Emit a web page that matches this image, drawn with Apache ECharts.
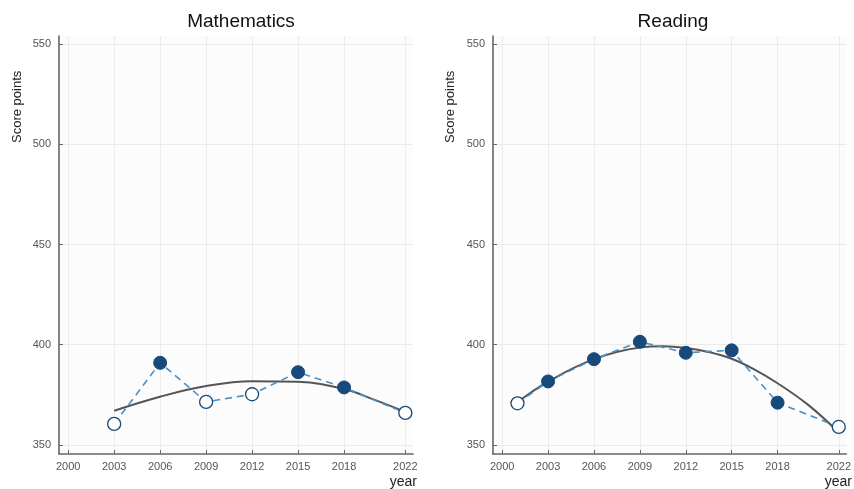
<!DOCTYPE html>
<html>
<head>
<meta charset="utf-8">
<script src="https://cdn.jsdelivr.net/npm/echarts@6/dist/echarts.min.js"></script>
<style>
html,body{margin:0;padding:0;background:#fff;}
#chart{width:854px;height:489px;}
</style>
</head>
<body>
<div id="chart"></div>
<script>
// ---- data ----
var xTickYears = [2000, 2003, 2006, 2009, 2012, 2015, 2018, 2022];
var yTickValues = [350, 400, 450, 500, 550];

var mathYears = [2003, 2006, 2009, 2012, 2015, 2018, 2022];
var mathScores = [360.5, 391, 371.5, 375.3, 386.3, 378.7, 366];
var mathFilled = [false, true, false, false, true, true, false];
var mathTrendYears = [2003, 2006, 2009, 2012, 2015, 2018, 2020, 2022];
var mathTrendScores = [367.1, 374.1, 379.4, 381.8, 381.5, 377.9, 372.5, 366.5];

var readYears = [2001, 2003, 2006, 2009, 2012, 2015, 2018, 2022];
var readScores = [370.8, 381.7, 392.8, 401.5, 396, 397.2, 371.1, 359];
var readFilled = [false, true, true, true, true, true, true, false];
var readTrendYears = [2001, 2003, 2006, 2009, 2010.5, 2012, 2013.5, 2015, 2016.5, 2018, 2020, 2022];
var readTrendScores = [371.3, 381.6, 392.8, 398.6, 399.2, 398.4, 396.4, 393, 387.6, 380.8, 370, 356.3];

// ---- styling ----
var darkBlue = '#17497a';
var lightBlue = '#4a8fc2';
var axisGray = '#666';
var gridGray = '#ebebeb';
var font = 'Liberation Sans, Arial, sans-serif';

function pairs(xs, ys) {
  return xs.map(function (x, i) { return [x, ys[i]]; });
}
function markerData(xs, ys, filled) {
  return xs.map(function (x, i) {
    return {
      value: [x, ys[i]],
      itemStyle: filled[i]
        ? { color: darkBlue, borderColor: darkBlue, borderWidth: 1 }
        : { color: '#ffffff', borderColor: darkBlue, borderWidth: 1.3 }
    };
  });
}
function xAxisCfg(idx) {
  return {
    type: 'value', gridIndex: idx, min: 1999.4, max: 2022.5,
    axisLine: { show: true, lineStyle: { color: axisGray, width: 1.6 } },
    axisTick: { show: true, inside: true, length: 4, customValues: xTickYears, lineStyle: { color: axisGray } },
    axisLabel: { customValues: xTickYears, color: '#555', fontSize: 11, margin: 7, fontFamily: font,
      formatter: function (v) { return String(Math.round(v)); } },
    splitLine: { show: true, lineStyle: { color: gridGray, width: 1 } }
  };
}
function yAxisCfg(idx) {
  return {
    type: 'value', gridIndex: idx, min: 345.5, max: 554,
    axisLine: { show: true, lineStyle: { color: axisGray, width: 1.6 } },
    axisTick: { show: true, inside: true, length: 4, customValues: yTickValues, lineStyle: { color: axisGray } },
    axisLabel: { customValues: yTickValues, color: '#555', fontSize: 11, margin: 8, fontFamily: font },
    splitLine: { show: true, lineStyle: { color: gridGray, width: 1 } }
  };
}
function panelSeries(idx, years, scores, filled, tYears, tScores) {
  return [
    {
      type: 'line', xAxisIndex: idx, yAxisIndex: idx, smooth: 0.4, symbol: 'none',
      data: pairs(tYears, tScores), z: 2,
      lineStyle: { color: '#555', width: 2 }
    },
    {
      type: 'line', xAxisIndex: idx, yAxisIndex: idx, symbol: 'circle', symbolSize: 13,
      showAllSymbol: true, data: markerData(years, scores, filled), z: 3,
      lineStyle: { color: lightBlue, width: 1.6, type: [7, 5] },
      itemStyle: { color: darkBlue }
    }
  ];
}

var chart = echarts.init(document.getElementById('chart'), null, { renderer: 'canvas' });
chart.setOption({
  animation: false,
  backgroundColor: '#ffffff',
  grid: [
    { left: 59, right: 441, top: 36, bottom: 35, show: true, backgroundColor: '#fcfcfc', borderWidth: 0 },
    { left: 493, right: 7, top: 36, bottom: 35, show: true, backgroundColor: '#fcfcfc', borderWidth: 0 }
  ],
  title: [
    { text: 'Mathematics', left: 236, top: 7, textAlign: 'center',
      textStyle: { fontSize: 19, fontWeight: 'normal', color: '#111', fontFamily: font } },
    { text: 'Reading', left: 668, top: 7, textAlign: 'center',
      textStyle: { fontSize: 19, fontWeight: 'normal', color: '#111', fontFamily: font } }
  ],
  xAxis: [xAxisCfg(0), xAxisCfg(1)],
  yAxis: [yAxisCfg(0), yAxisCfg(1)],
  graphic: [
    { type: 'text', x: 11, y: 143, rotation: Math.PI / 2,
      style: { text: 'Score points', fill: '#222', fontSize: 13, fontFamily: font } },
    { type: 'text', x: 444, y: 143, rotation: Math.PI / 2,
      style: { text: 'Score points', fill: '#222', fontSize: 13, fontFamily: font } },
    { type: 'text', x: 417, y: 475,
      style: { text: 'year', fill: '#222', fontSize: 14, align: 'right', fontFamily: font } },
    { type: 'text', x: 852, y: 475,
      style: { text: 'year', fill: '#222', fontSize: 14, align: 'right', fontFamily: font } }
  ],
  series: panelSeries(0, mathYears, mathScores, mathFilled, mathTrendYears, mathTrendScores)
    .concat(panelSeries(1, readYears, readScores, readFilled, readTrendYears, readTrendScores))
});
</script>
</body>
</html>
